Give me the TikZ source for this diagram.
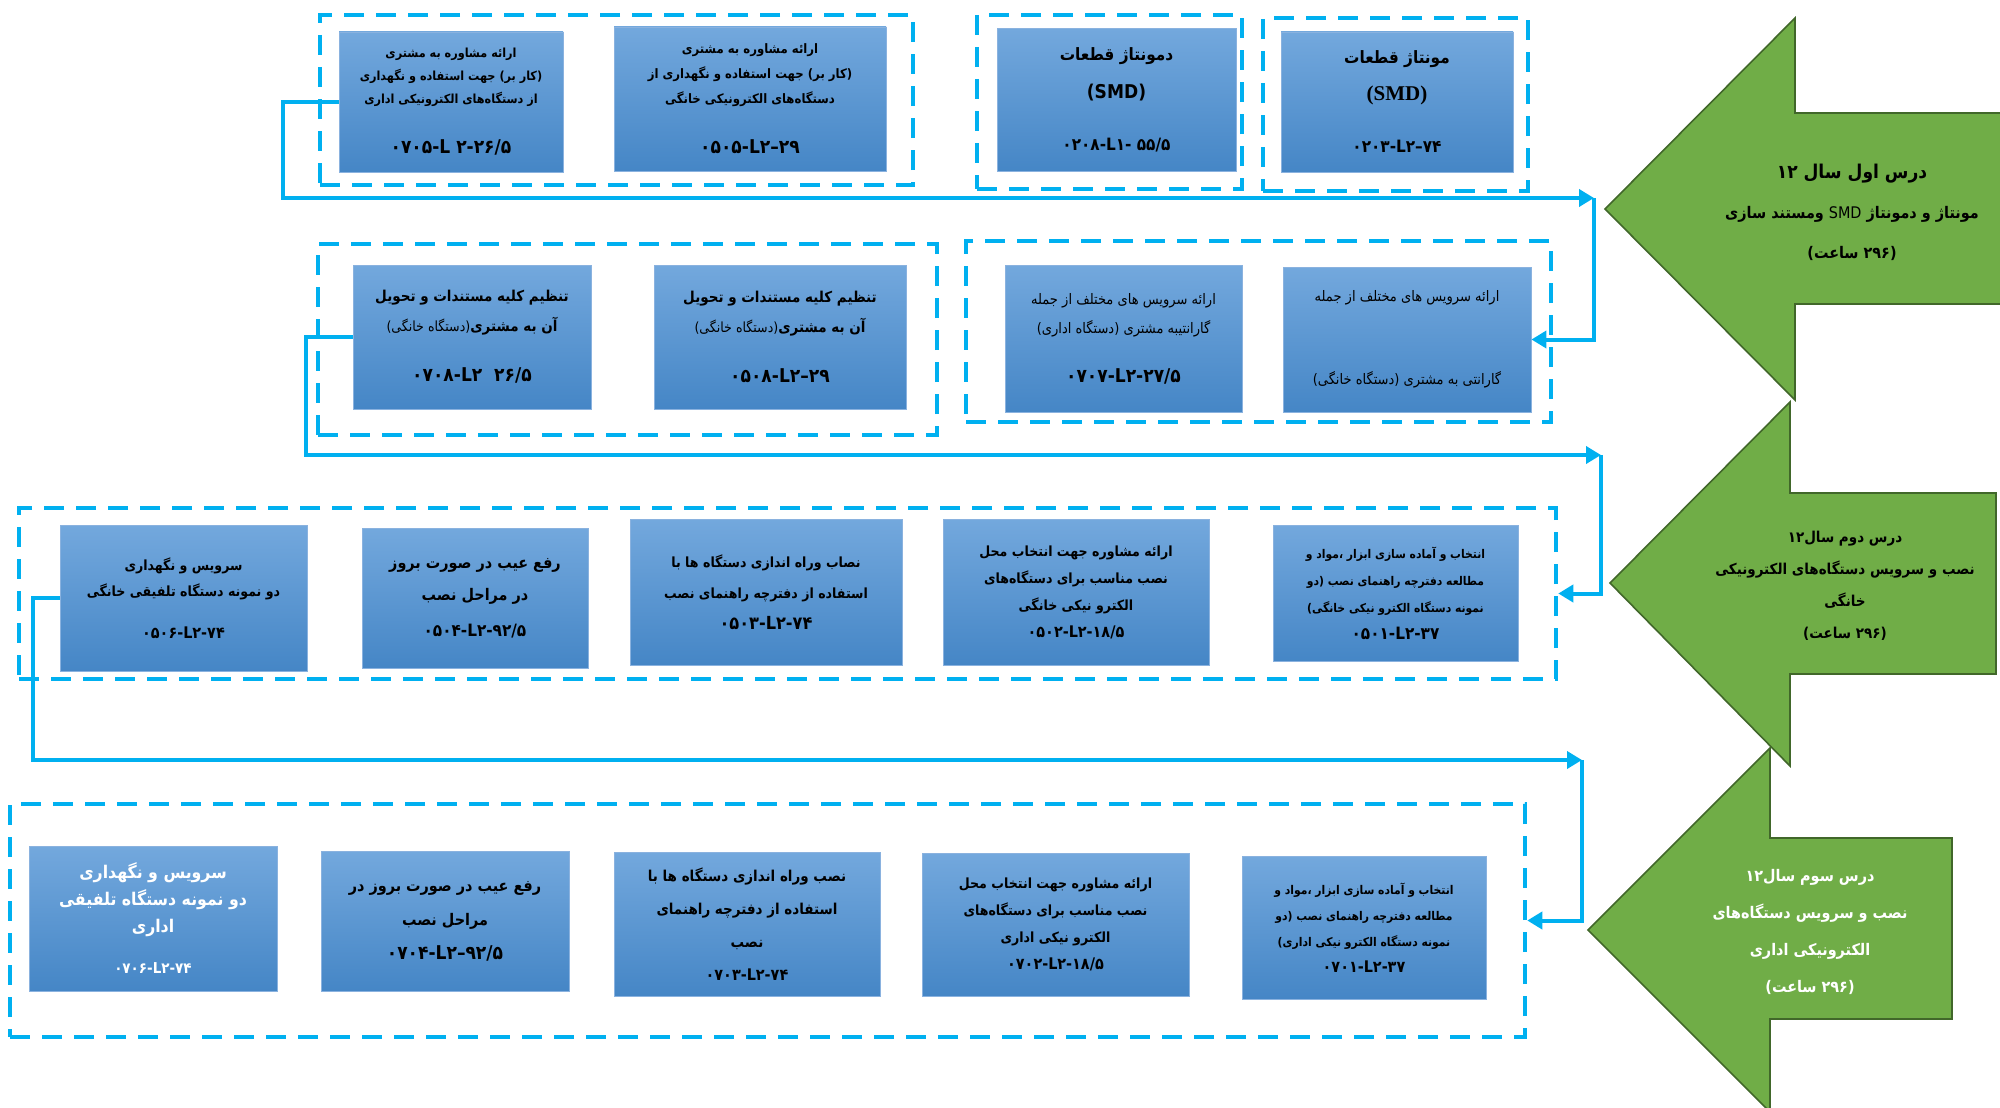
\documentclass[tikz,border=0pt]{standalone}
\usepackage{fontspec}
\usetikzlibrary{arrows.meta}
\TeXXeTstate=1
\newfontfamily\fafont[Script=Arabic,FakeStretch=0.9]{DejaVu Sans}
\newfontfamily\serifsmd{Liberation Serif}
\definecolor{linkblue}{HTML}{00B0F0}
\definecolor{boxtop}{HTML}{73A8DD}
\definecolor{boxbottom}{HTML}{4586C6}
\definecolor{boxedge}{HTML}{8AB2DF}
\definecolor{coursegreen}{HTML}{70AD47}
\definecolor{courseedge}{HTML}{41672A}
\newcommand\faline[1]{\beginR#1\endR}                 % one right-to-left line
\newcommand\code[2][18]{{\fontsize{#1}{#1}\selectfont\beginR\beginL#2\endL\endR}} % module code

\tikzset{
  stepbox/.style={draw=boxedge, line width=.8pt, top color=boxtop,
    bottom color=boxbottom, align=center, inner sep=2pt,
    font=\fafont\bfseries\fontsize{13}{23}\selectfont},
  dims/.style 2 args={minimum width=#1, minimum height=#2},
  group/.style={draw=linkblue, line width=4.5pt, dash pattern=on 20pt off 12pt},
  link/.style={draw=linkblue, line width=4pt, -{Triangle[length=15pt,width=17pt]}},
  course/.style={fill=coursegreen, draw=courseedge, line width=1.6pt},
  coursetext/.style={align=center, font=\fafont\bfseries\fontsize{15}{32}\selectfont},
}

\begin{document}
\begin{tikzpicture}[x=1pt,y=-1pt]
  \useasboundingbox (0,0) rectangle (2000,1108);
  % course arrows
  \draw[course] (1952,838) -- (1770,838) -- (1770,748) -- (1588,930)
    -- (1770,1112) -- (1770,1019) -- (1952,1019) -- cycle;
  \draw[course] (1996,493) -- (1790,493) -- (1790,402) -- (1610,583)
    -- (1790,766) -- (1790,674) -- (1996,674) -- cycle;
  \draw[course] (2004,113) -- (1795,113) -- (1795,18) -- (1605,209)
    -- (1795,400) -- (1795,304) -- (2004,304) -- cycle;
  \node[coursetext, font=\fafont\bfseries\fontsize{16}{40}\selectfont] (year1) at (1852,212) {
    {\fontsize{19}{19}\selectfont\faline{درس اول سال ۱۲}}\\
    \faline{مونتاژ و دمونتاژ {\mdseries SMD} ومستند سازی}\\
    \faline{(۲۹۶ ساعت)}};
  \node[coursetext] (year2) at (1845,586) {
    \faline{درس دوم سال۱۲}\\
    \faline{نصب و سرویس دستگاه‌های الکترونیکی}\\
    \faline{خانگی}\\
    \faline{(۲۹۶ ساعت)}};
  \node[coursetext, text=white, font=\fafont\bfseries\fontsize{16}{37}\selectfont] (year3) at (1810,932) {
    \faline{درس سوم سال۱۲}\\
    \faline{نصب و سرویس دستگاه‌های}\\
    \faline{الکترونیکی اداری}\\
    \faline{(۲۹۶ ساعت)}};
  % dashed groups
  \foreach \name/\cx/\cy/\w/\h in {
      gA/616.5/100/593/170, gB/1109.5/102/265/174, gC/1395.5/104.5/265/173,
      gD/627.5/339.5/619/191, gE/1258.5/331.5/585/181,
      gF/787.5/593.5/1537/171, gG/767.5/920.5/1515/233
    }
    \node[group, dims={\w}{\h}] (\name) at (\cx,\cy) {};
  % first year
  \node[stepbox, dims={224}{140}, font=\fafont\bfseries\fontsize{12.5}{23}\selectfont] (r1a) at (451,102) {
    \faline{ارائه مشاوره به مشتری}\\
    \faline{(کار بر) جهت استفاده و نگهداری}\\
    \faline{از دستگاه‌های الکترونیکی اداری}\\[27pt]
    \code[19]{۰۷۰۵-L\ ۲-۲۶/۵}};
  \node[stepbox, dims={272}{144}, font=\fafont\bfseries\fontsize{13}{25}\selectfont] (r1b) at (750,99) {
    \faline{ارائه مشاوره به مشتری}\\
    \faline{(کار بر) جهت استفاده و نگهداری از}\\
    \faline{دستگاه‌های الکترونیکی خانگی}\\[25pt]
    \code[19]{۰۵۰۵-L۲–۲۹}};
  \node[stepbox, dims={239}{143}, font=\fafont\bfseries\fontsize{17}{38}\selectfont] (r1c) at (1116.5,100) {
    \faline{دمونتاژ قطعات}\\
    {\fontsize{19}{19}\selectfont(SMD)}\\[14pt]
    \code[17]{۰۲۰۸-L۱-\ ۵۵/۵}};
  \node[stepbox, dims={232}{140}, font=\fafont\bfseries\fontsize{17}{37}\selectfont] (r1d) at (1397,102) {
    \faline{مونتاژ قطعات}\\
    {\serifsmd\bfseries\fontsize{21}{21}\selectfont(SMD)}\\[15pt]
    \code[17]{۰۲۰۳-L۲–۷۴}};
  % second row
  \node[stepbox, dims={238}{144}, font=\fafont\bfseries\fontsize{15}{30}\selectfont] (r2a) at (472,337) {
    \faline{تنظیم کلیه مستندات  و تحویل}\\
    \faline{آن به مشتری{\mdseries\fontsize{14}{14}\selectfont(دستگاه خانگی)}}\\[20pt]
    \code[19]{۰۷۰۸-L۲\ \ ۲۶/۵}};
  \node[stepbox, dims={252}{144}, font=\fafont\bfseries\fontsize{15}{30}\selectfont] (r2b) at (780,337) {
    \faline{تنظیم کلیه مستندات  و تحویل}\\
    \faline{آن به مشتری{\mdseries\fontsize{14}{14}\selectfont(دستگاه خانگی)}}\\[20pt]
    \code[19]{۰۵۰۸-L۲–۲۹}};
  \node[stepbox, dims={237}{147}, font=\fafont\mdseries\fontsize{14.5}{29}\selectfont] (r2c) at (1123.5,338.5) {
    \faline{ارائه سرویس های مختلف  از جمله}\\
    \faline{گارانتیبه مشتری (دستگاه اداری)}\\[20pt]
    {\bfseries\code[19]{۰۷۰۷-L۲-۲۷/۵}}};
  \node[stepbox, dims={248}{145}, font=\fafont\mdseries\fontsize{14.5}{29}\selectfont] (r2d) at (1407,339.5) {
    \faline{ارائه سرویس های مختلف  از جمله}\\[54pt]
    \faline{گارانتی به مشتری (دستگاه خانگی)}};
  % third row
  \node[stepbox, dims={247}{146}, font=\fafont\bfseries\fontsize{14}{26}\selectfont] (r3a) at (183.5,598) {
    \faline{سرویس و نگهداری}\\
    \faline{دو نمونه دستگاه تلفیقی خانگی}\\[16pt]
    \code[16]{۰۵۰۶-L۲-۷۴}};
  \node[stepbox, dims={226}{140}, font=\fafont\bfseries\fontsize{16}{32}\selectfont] (r3b) at (475,598) {
    \faline{رفع عیب در صورت بروز}\\
    \faline{در مراحل نصب}\\[4pt]
    \code[17]{۰۵۰۴-L۲-۹۲/۵}};
  \node[stepbox, dims={272}{146}, font=\fafont\bfseries\fontsize{14}{31}\selectfont] (r3c) at (766,592) {
    \faline{نصاب وراه اندازی دستگاه ها با}\\
    \faline{استفاده از دفترچه راهنمای نصب}\\
    \code[18]{۰۵۰۳-L۲-۷۴}};
  \node[stepbox, dims={266}{146}, font=\fafont\bfseries\fontsize{14}{27}\selectfont] (r3d) at (1076,592) {
    \faline{ارائه مشاوره جهت انتخاب محل}\\
    \faline{نصب مناسب برای دستگاه‌های}\\
    \faline{الکترو نیکی خانگی}\\
    \code[16]{۰۵۰۲-L۲-۱۸/۵}};
  \node[stepbox, dims={245}{136}, font=\fafont\bfseries\fontsize{12}{27}\selectfont] (r3e) at (1395.5,593) {
    \faline{انتخاب و آماده سازی ابزار ،مواد و}\\
    \faline{مطالعه دفترچه راهنمای نصب (دو}\\
    \faline{نمونه دستگاه الکترو نیکی خانگی)}\\
    \code[17]{۰۵۰۱-L۲-۳۷}};
  % fourth row
  \node[stepbox, dims={248}{145}, text=white, font=\fafont\bfseries\fontsize{17.5}{27}\selectfont] (r4a) at (153,918.5) {
    \faline{سرویس و نگهداری}\\
    \faline{دو نمونه دستگاه تلفیقی}\\
    \faline{اداری}\\[14pt]
    \code[15]{۰۷۰۶-L۲-۷۴}};
  \node[stepbox, dims={248}{140}, font=\fafont\bfseries\fontsize{16}{34}\selectfont] (r4b) at (445,921) {
    \faline{رفع عیب در صورت بروز در}\\
    \faline{مراحل نصب}\\
    \code[19]{۰۷۰۴-L۲–۹۲/۵}};
  \node[stepbox, dims={266}{144}, font=\fafont\bfseries\fontsize{15}{33}\selectfont] (r4c) at (747,924) {
    \faline{نصب وراه اندازی دستگاه ها با}\\
    \faline{استفاده از دفترچه راهنمای}\\
    \faline{نصب}\\
    \code[16]{۰۷۰۳-L۲-۷۴}};
  \node[stepbox, dims={267}{143}, font=\fafont\bfseries\fontsize{14}{27}\selectfont] (r4d) at (1055.5,924.5) {
    \faline{ارائه مشاوره جهت انتخاب محل}\\
    \faline{نصب مناسب برای دستگاه‌های}\\
    \faline{الکترو نیکی اداری}\\
    \code[16]{۰۷۰۲-L۲-۱۸/۵}};
  \node[stepbox, dims={244}{143}, font=\fafont\bfseries\fontsize{12}{26}\selectfont] (r4e) at (1364,927.5) {
    \faline{انتخاب و آماده سازی ابزار ،مواد و}\\
    \faline{مطالعه دفترچه راهنمای نصب (دو}\\
    \faline{نمونه دستگاه الکترو نیکی اداری)}\\
    \code[16]{۰۷۰۱-L۲-۳۷}};
  % links between rows
  \coordinate (c1) at (1594,198);
  \coordinate (c2) at (1601,455);
  \coordinate (c3) at (1582,760);
  \draw[link] (r1a.west) -- ++(-56,0) |- (c1);
  \draw[link] (c1) |- (r2d.east);
  \draw[link] (r2a.west) -- ++(-47,0) |- (c2);
  \draw[link] (c2) |- (gF.east);
  \draw[link] (r3a.west) -- ++(-27,0) |- (c3);
  \draw[link] (c3) |- (gG.east);
\end{tikzpicture}
\end{document}
